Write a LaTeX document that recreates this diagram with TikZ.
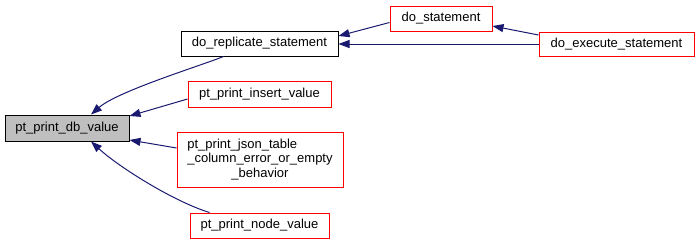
\documentclass[tikz,border=0pt]{standalone}
\usepackage{fontspec}
\setmainfont{Liberation Sans}
\usepackage{xcolor}
\usepackage{tikz}
\usetikzlibrary{arrows.meta}

\definecolor{edgeblue}{RGB}{25,25,112}
\definecolor{rootgray}{RGB}{191,191,191}

\begin{document}
\begin{tikzpicture}[x=1pt,y=-1pt,
    fn/.style={draw=red, line width=1pt, minimum height=25pt, inner sep=0pt,
      font=\fontsize{13}{14.5}\selectfont},
    done/.style={fn, draw=black},
    root/.style={fn, draw=black, fill=rootgray},
    call/.style={draw=edgeblue, line width=1pt, -{Triangle[length=11pt,width=8pt]}}]
    \useasboundingbox (0,0) rectangle (700,244);

    \node[root, minimum width=124pt, minimum height=26pt] (dbvalue) at (67,128) {pt\_print\_db\_value};
    \node[done, minimum width=157pt] (replicate) at (259.5,43.5) {do\_replicate\_statement};
    \node[fn, minimum width=143pt, minimum height=26pt] (insert) at (259.5,94) {pt\_print\_insert\_value};
    \node[fn, minimum width=166pt, minimum height=55pt, align=left] (json) at (260,159.5)
        {pt\_print\_json\_table\\\_column\_error\_or\_empty\\\hspace*{44pt}\_behavior};
    \node[fn, minimum width=139pt] (nodeval) at (259.5,225.5) {pt\_print\_node\_value};
    \node[fn, minimum width=102pt] (stmt) at (441,18.5) {do\_statement};
    \node[fn, minimum width=155pt, minimum height=24pt] (execute) at (616.5,44) {do\_execute\_statement};

    \draw[call] ([xshift=-36pt]replicate.south) .. controls (200,66) and (118,91) .. ([xshift=24pt]dbvalue.north);
    \draw[call] ([yshift=-5pt]insert.west) -- ([yshift=12pt]dbvalue.east);
    \draw[call] ([yshift=11.5pt]json.west) -- ([yshift=-12pt]dbvalue.east);
    \draw[call] ([xshift=-50pt]nodeval.north) .. controls (175,202) and (120,168) .. ([xshift=24pt]dbvalue.south);
    \draw[call] ([yshift=-4pt]stmt.west) -- ([yshift=7.5pt]replicate.east);
    \draw[call] (execute.west) -- (execute.west -| replicate.east);
    \draw[call] ([yshift=9pt]execute.west) -- ([yshift=-7.5pt]stmt.east);
\end{tikzpicture}
\end{document}
